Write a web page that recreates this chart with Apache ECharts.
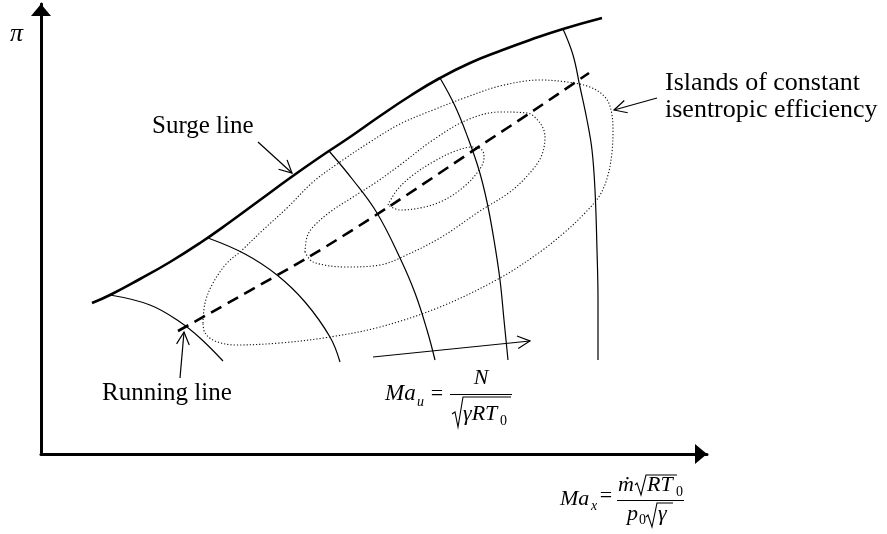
<!DOCTYPE html>
<html>
<head>
<meta charset="utf-8">
<script src="https://cdn.jsdelivr.net/npm/echarts@6/dist/echarts.min.js"></script>
<style>
  html, body { margin: 0; padding: 0; background: #fff; }
  #chart { width: 887px; height: 534px; }
</style>
</head>
<body>
<div id="chart"></div>
<script>
// Compressor map in arbitrary units: x = corrected mass flow, y = pressure ratio
const xMax = 666;
const yMax = 450;

// Surge line (stall limit)
const surgeLine = [[51,151],[69,159],[99,175],[129,192],[159,211],[189,232],[219,254],[249,276],[279,297],[309,317],[339,338],[369,358],[399,376],[429,391],[459,403],[489,414],[522,425],[561,436]];

// Constant corrected-speed lines
const speedLine1 = [[69,159],[109,149],[139,132],[159,116],[182,93]];
const speedLine2 = [[167,216],[204,200],[236,179],[264,152],[289,117],[299,92]];
const speedLine3 = [[288,303],[312,274],[336,241],[359,196],[374,161],[386,124],[394,94]];
const speedLine4 = [[399,376],[414,348],[427,316],[438,284],[446,252],[453,214],[459,174],[463,134],[467,94]];
const speedLine5 = [[522,425],[532,399],[539,367],[546,334],[551,304],[554,264],[556,204],[557,154],[557,94]];

// Running (operating) line
const runningLine = [[137,123],[266,196],[349,248],[439,308],[492,343],[548,381]];

// Islands of constant isentropic efficiency (closed contours)
const islandInner = [[347,249],[356,264],[372,279],[392,292],[412,302],[431,307],[441,304],[443,296],[436,281],[419,264],[399,252],[379,246],[359,244],[347,249]];
const islandMiddle = [[264,202],[266,217],[272,227],[289,242],[312,257],[334,271],[359,289],[392,314],[426,334],[459,342],[486,341],[499,331],[504,317],[500,297],[487,279],[469,262],[439,243],[399,216],[359,196],[339,189],[306,187],[272,192],[264,202]];
const islandOuter = [[162,131],[164,151],[172,171],[186,191],[199,202],[222,224],[246,246],[272,272],[299,292],[329,312],[359,330],[392,344],[426,357],[459,368],[499,374],[526,372],[549,367],[564,357],[570,344],[572,324],[571,302],[567,279],[559,259],[544,241],[524,222],[499,202],[459,176],[399,147],[339,127],[289,117],[239,111],[194,109],[174,113],[164,121],[162,131]];

// Callout arrows: [tailX, tailY, tipX, tipY]
const callouts = [
  [217,312,251,281],   // surge line
  [139,76,143,122],    // running line
  [616,356,573,344],   // efficiency islands
  [332,97,489,113]     // direction of increasing speed
];

// Axis arrowheads: [x, y, dirX, dirY]
const axisHeads = [[xMax,0,1,0],[0,yMax,0,1]];

const chart = echarts.init(document.getElementById('chart'), null, { renderer: 'canvas' });

const SERIF = '"Liberation Serif", "Times New Roman", serif';
function txt(str, x, baseline, size, opts) {
  opts = opts || {};
  return {
    type: 'text',
    silent: true,
    style: {
      text: str,
      x: x,
      y: baseline - 0.34 * size,
      font: (opts.italic ? 'italic ' : '') + size + 'px ' + SERIF,
      fill: '#000',
      textAlign: opts.align || 'left',
      textVerticalAlign: 'middle'
    }
  };
}
function seg(points, w) {
  return {
    type: 'polyline',
    silent: true,
    shape: { points: points },
    style: { stroke: '#000', fill: null, lineWidth: w || 1.1 }
  };
}

function lineSeries(data, width, opts) {
  opts = opts || {};
  return {
    type: 'line',
    data: data,
    symbol: 'none',
    smooth: opts.smooth === undefined ? 0.4 : opts.smooth,
    silent: true,
    clip: false,
    z: opts.z || 2,
    lineStyle: {
      color: opts.color || '#000',
      width: width,
      type: opts.type || 'solid',
      cap: 'butt'
    }
  };
}

const option = {
  animation: false,
  backgroundColor: '#fff',
  grid: { left: 41, right: 180, top: 4, bottom: 80 },
  xAxis: {
    type: 'value', min: 0, max: xMax,
    axisLine: { show: true, onZero: false, lineStyle: { color: '#000', width: 3 } },
    axisTick: { show: false }, axisLabel: { show: false }, splitLine: { show: false }
  },
  yAxis: {
    type: 'value', min: 0, max: yMax,
    axisLine: { show: true, onZero: false, lineStyle: { color: '#000', width: 3 } },
    axisTick: { show: false }, axisLabel: { show: false }, splitLine: { show: false }
  },
  series: [
    lineSeries(islandOuter, 1.1, { color: '#111', type: [1.2, 2], smooth: 0.35 }),
    lineSeries(islandMiddle, 1.1, { color: '#111', type: [1.2, 2], smooth: 0.35 }),
    lineSeries(islandInner, 1.1, { color: '#111', type: [1.2, 2], smooth: 0.35 }),
    lineSeries(speedLine1, 1.2),
    lineSeries(speedLine2, 1.2),
    lineSeries(speedLine3, 1.2),
    lineSeries(speedLine4, 1.2),
    lineSeries(speedLine5, 1.2),
    lineSeries(runningLine, 2.6, { type: [12, 7], smooth: 0.3, z: 3 }),
    lineSeries(surgeLine, 2.6, { z: 4, smooth: 0.5 }),
    {
      type: 'custom',
      data: callouts,
      silent: true,
      z: 5,
      renderItem: function (params, api) {
        const p1 = api.coord([api.value(0), api.value(1)]);
        const p2 = api.coord([api.value(2), api.value(3)]);
        const dx = p2[0] - p1[0], dy = p2[1] - p1[1];
        const len = Math.hypot(dx, dy);
        const bx = -dx / len, by = -dy / len;
        const L = 14, a = 27 * Math.PI / 180, c = Math.cos(a), s = Math.sin(a);
        const h1 = [p2[0] + L * (bx * c - by * s), p2[1] + L * (bx * s + by * c)];
        const h2 = [p2[0] + L * (bx * c + by * s), p2[1] + L * (-bx * s + by * c)];
        return {
          type: 'group',
          children: [
            { type: 'line', shape: { x1: p1[0], y1: p1[1], x2: p2[0], y2: p2[1] }, style: { stroke: '#000', lineWidth: 1.2 } },
            { type: 'polyline', shape: { points: [h1, p2, h2] }, style: { stroke: '#000', fill: null, lineWidth: 1.2 } }
          ]
        };
      }
    },
    {
      type: 'custom',
      data: axisHeads,
      silent: true,
      z: 6,
      renderItem: function (params, api) {
        const tip = api.coord([api.value(0), api.value(1)]);
        const ux = api.value(2), uy = -api.value(3);
        const H = 12, W = 10;
        const base = [tip[0] - ux * H, tip[1] - uy * H];
        const px = -uy, py = ux;
        return {
          type: 'polygon',
          shape: { points: [tip, [base[0] + px * W, base[1] + py * W], [base[0] - px * W, base[1] - py * W]] },
          style: { fill: '#000', stroke: null }
        };
      }
    }
  ],
  graphic: [
    // axis symbol and callout labels
    txt('π', 10, 43, 26, { italic: true }),
    txt('Surge line', 152, 135, 25),
    txt('Running line', 102, 402, 25),
    txt('Islands of constant', 665, 92, 26),
    txt('isentropic efficiency', 665, 119, 26),

    // Ma_u = N / sqrt(gamma R T0)
    txt('Ma', 385, 402, 23, { italic: true }),
    txt('u', 417, 407, 14, { italic: true }),
    txt('=', 437, 402, 22, { align: 'center' }),
    seg([[450, 394.5], [512, 394.5]], 1.2),
    txt('N', 481, 386, 22, { italic: true, align: 'center' }),
    seg([[452, 414], [455, 412], [458, 427], [463, 397], [511, 397]], 1.1),
    txt('γRT', 463, 422, 22, { italic: true }),
    txt('0', 500, 426, 14),

    // Ma_x = mdot sqrt(R T0) / (p0 sqrt(gamma))
    txt('Ma', 560, 507, 22, { italic: true }),
    txt('x', 591, 511, 14, { italic: true }),
    txt('=', 606, 504, 22, { align: 'center' }),
    seg([[617, 500.5], [684, 500.5]], 1.2),
    txt('ṁ', 618, 493, 22, { italic: true }),
    seg([[635, 485], [637, 483], [641, 495], [646, 475], [677, 475]], 1.1),
    txt('RT', 647, 493, 22, { italic: true }),
    txt('0', 676, 497, 14),
    txt('p', 627, 522, 22, { italic: true }),
    txt('0', 639, 525, 14),
    seg([[646, 517], [648, 515], [652, 527], [657, 503], [673, 503]], 1.1),
    txt('γ', 658, 522, 22, { italic: true })
  ]
};

chart.setOption(option);
</script>
</body>
</html>
